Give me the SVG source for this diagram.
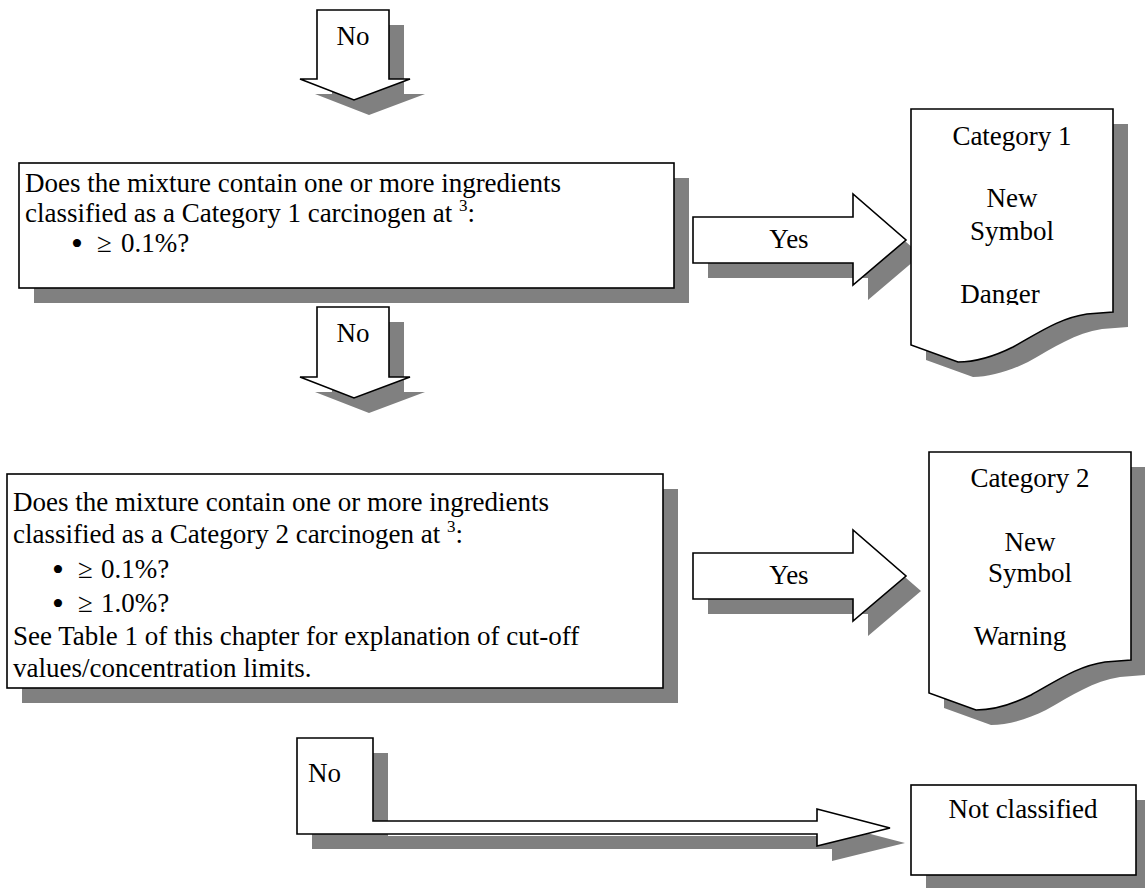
<svg xmlns="http://www.w3.org/2000/svg" width="1145" height="888" viewBox="0 0 1145 888">
<style>
.sh{fill:#808080;stroke:none}
.bx{fill:#fff;stroke:#000;stroke-width:1.6;stroke-linejoin:miter}
.t{font-family:"Liberation Serif","Times New Roman",serif;font-size:27px;fill:#000}
.c{text-anchor:middle}
.sup{font-size:17px}
.bul{font-size:34px}
</style>
<defs>
<path id="arrDown1" d="M317,10 H389 V79 H410 L354,100 L300,79 H317 Z"/>
<path id="arrDown2" d="M317,307 H389 V377 H410 L354,398 L300,377 H317 Z"/>
<path id="arrYes1" d="M693,217 H853 V194 L906,240 L853,285 V263 H693 Z"/>
<path id="arrYes2" d="M693,553 H853 V530 L906,576 L853,621 V599 H693 Z"/>
<path id="arrNo3" d="M297,738 H373 V821 H817 V809 L890,828 L817,846 V834 H297 Z"/>
<path id="doc1" d="M911,109 H1113 V312 L1087,314 C1060,318 1040,332 1013,347 C995,356 975,362 958,362 L911,345 Z"/>
<path id="doc2" d="M929,452 H1131 V660 L1105,662 C1078,666 1058,680 1031,695 C1013,704 993,710 976,710 L929,693 Z"/>
<clipPath id="clip1"><rect x="911" y="109" width="202" height="196"/></clipPath>
</defs>

<g id="connectors">
  <g id="arrow-no-1">
    <use href="#arrDown1" class="sh" transform="translate(15,15)"/>
    <use href="#arrDown1" class="bx"/>
    <text class="t c" x="353" y="45">No</text>
  </g>
  <g id="arrow-yes-1">
    <use href="#arrYes1" class="sh" transform="translate(15,15)"/>
    <use href="#arrYes1" class="bx"/>
    <text class="t c" x="789" y="248">Yes</text>
  </g>
  <g id="arrow-no-2">
    <use href="#arrDown2" class="sh" transform="translate(15,15)"/>
    <use href="#arrDown2" class="bx"/>
    <text class="t c" x="353" y="342">No</text>
  </g>
  <g id="arrow-yes-2">
    <use href="#arrYes2" class="sh" transform="translate(15,15)"/>
    <use href="#arrYes2" class="bx"/>
    <text class="t c" x="789" y="584">Yes</text>
  </g>
  <g id="arrow-no-3">
    <use href="#arrNo3" class="sh" transform="translate(15,15)"/>
    <use href="#arrNo3" class="bx"/>
    <text class="t" x="308" y="782">No</text>
  </g>
</g>

<g id="question-1">
  <rect class="sh" x="34" y="178" width="655" height="125"/>
  <rect class="bx" x="19" y="163" width="655" height="125"/>
  <text class="t" x="25" y="192">Does the mixture contain one or more ingredients</text>
  <text class="t" x="25" y="222">classified as a Category 1 carcinogen at <tspan class="sup" dy="-11">3</tspan><tspan dy="11">:</tspan></text>
  <text class="t" y="252"><tspan class="bul" x="71" y="255">•</tspan><tspan x="97" y="252">≥</tspan><tspan x="121">0.1%?</tspan></text>
</g>

<g id="category-1">
  <use href="#doc1" class="sh" transform="translate(15,15)"/>
  <use href="#doc1" class="bx"/>
  <text class="t c" x="1012" y="145">Category 1</text>
  <text class="t c" x="1012" y="207">New</text>
  <text class="t c" x="1012" y="240">Symbol</text>
  <text class="t c" x="1000" y="303" clip-path="url(#clip1)">Danger</text>
</g>

<g id="question-2">
  <rect class="sh" x="22" y="489" width="656" height="214"/>
  <rect class="bx" x="7" y="474" width="656" height="214"/>
  <text class="t" x="13" y="511">Does the mixture contain one or more ingredients</text>
  <text class="t" x="13" y="543">classified as a Category 2 carcinogen at <tspan class="sup" dy="-11">3</tspan><tspan dy="11">:</tspan></text>
  <text class="t" y="578"><tspan class="bul" x="52" y="581">•</tspan><tspan x="78" y="578">≥</tspan><tspan x="101">0.1%?</tspan></text>
  <text class="t" y="612"><tspan class="bul" x="52" y="615">•</tspan><tspan x="78" y="612">≥</tspan><tspan x="101">1.0%?</tspan></text>
  <text class="t" x="13" y="645">See Table 1 of this chapter for explanation of cut-off</text>
  <text class="t" x="13" y="677">values/concentration limits.</text>
</g>

<g id="category-2">
  <use href="#doc2" class="sh" transform="translate(15,15)"/>
  <use href="#doc2" class="bx"/>
  <text class="t c" x="1030" y="487">Category 2</text>
  <text class="t c" x="1030" y="551">New</text>
  <text class="t c" x="1030" y="582">Symbol</text>
  <text class="t c" x="1020" y="645">Warning</text>
</g>

<g id="not-classified">
  <rect class="sh" x="926" y="800" width="225" height="90"/>
  <rect class="bx" x="911" y="785" width="225" height="90"/>
  <text class="t c" x="1023" y="818">Not classified</text>
</g>
</svg>
